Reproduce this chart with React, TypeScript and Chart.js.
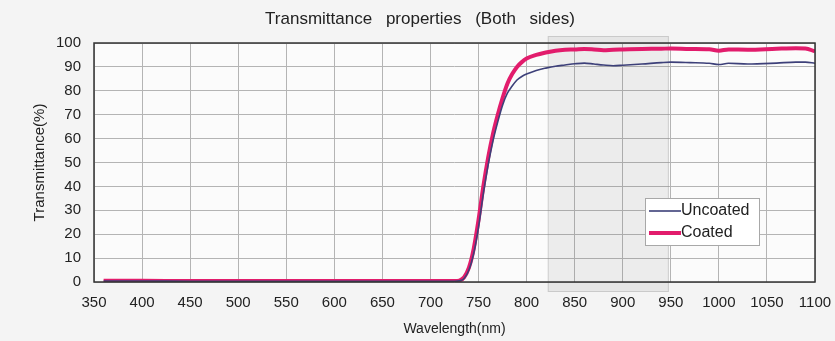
import React, { useEffect, useRef } from "react";
import { Chart, registerables } from "chart.js";

Chart.register(...registerables);

const titleText = "Transmittance properties (Both sides)";
const xTitle = "Wavelength(nm)";
const yTitle = "Transmittance(%)";
const seriesNames = ["Uncoated", "Coated"];

const wavelengths = [
  360, 400, 450, 500, 550, 600, 650, 700, 725, 730, 735, 740, 745, 750, 755, 760, 765, 770, 775, 780, 785, 790,
  795, 800, 810, 820, 830, 840, 850, 860, 870, 880, 890, 900, 920, 940, 950, 970, 990, 1000, 1010, 1030, 1060,
  1080, 1090, 1100,
];
const uncoated = [
  0.4, 0.4, 0.3, 0.3, 0.3, 0.3, 0.3, 0.3, 0.3, 0.5, 1.5, 5, 12, 23, 37, 49, 59, 67, 74, 79, 82, 84.5, 86, 87,
  88.5, 89.5, 90.3, 90.8, 91.3, 91.6, 91.2, 90.8, 90.5, 90.7, 91.2, 91.8, 92, 91.8, 91.5, 91, 91.5, 91.2, 91.6,
  92, 92, 91.5,
];
const coated = [
  0.5, 0.5, 0.4, 0.4, 0.4, 0.4, 0.4, 0.4, 0.4, 0.6, 2, 6, 14, 26, 40, 52, 62, 70, 77, 83, 87, 90, 92, 93.5, 95,
  96, 96.8, 97.2, 97.3, 97.5, 97.3, 97, 97.2, 97.3, 97.5, 97.6, 97.7, 97.5, 97.4, 96.8, 97.3, 97.2, 97.6, 97.8,
  97.7, 96.5,
];
const xTicksMin = 350;
const xTicksMax = 1100;
const xStep = 50;
const yMin = 0;
const yMax = 100;
const yStep = 10;
const bandRange = [822, 948];

const FONT = "'Liberation Sans', Arial, sans-serif";

const decorPlugin = {
  id: "decor",
  beforeDraw(chart: any) {
    const { ctx, chartArea } = chart;
    ctx.save();
    ctx.fillStyle = "#f4f4f4";
    ctx.fillRect(0, 0, chart.width, chart.height);
    ctx.fillStyle = "#fbfbfb";
    ctx.fillRect(chartArea.left, chartArea.top, chartArea.right - chartArea.left, chartArea.bottom - chartArea.top);
    // title
    ctx.font = `17px ${FONT}`;
    (ctx as any).wordSpacing = "9px";
    ctx.fillStyle = "#222";
    ctx.textAlign = "center";
    ctx.textBaseline = "alphabetic";
    ctx.fillText(titleText, 420, 24);
    (ctx as any).wordSpacing = "0px";
    ctx.restore();
  },
  beforeDatasetsDraw(chart: any) {
    const { ctx, chartArea, scales } = chart;
    const x0 = scales.x.getPixelForValue(bandRange[0]);
    const x1 = scales.x.getPixelForValue(bandRange[1]);
    const y0 = chartArea.top - 7;
    const y1 = chartArea.bottom + 10;
    ctx.save();
    ctx.fillStyle = "rgba(110,110,110,0.10)";
    ctx.fillRect(x0, y0, x1 - x0, y1 - y0);
    ctx.strokeStyle = "rgba(150,150,150,0.35)";
    ctx.lineWidth = 1;
    ctx.strokeRect(x0 + 0.5, y0 + 0.5, x1 - x0 - 1, y1 - y0 - 1);
    ctx.restore();
  },
  afterDatasetsDraw(chart: any) {
    const { ctx, chartArea } = chart;
    ctx.save();
    ctx.strokeStyle = "#333";
    ctx.lineWidth = 1.5;
    ctx.strokeRect(chartArea.left, chartArea.top, chartArea.right - chartArea.left, chartArea.bottom - chartArea.top);
    // legend
    const lx = 645, ly = 198, lw = 114, lh = 47;
    ctx.fillStyle = "#ffffff";
    ctx.fillRect(lx, ly, lw, lh);
    ctx.strokeStyle = "#a8a8a8";
    ctx.lineWidth = 1;
    ctx.strokeRect(lx + 0.5, ly + 0.5, lw, lh);
    ctx.font = `16px ${FONT}`;
    ctx.textBaseline = "middle";
    ctx.textAlign = "left";
    chart.data.datasets.forEach((ds: any, i: number) => {
      const yy = ly + 13 + i * 22;
      ctx.strokeStyle = ds.borderColor;
      ctx.lineWidth = ds.borderWidth;
      ctx.beginPath();
      ctx.moveTo(lx + 4, yy);
      ctx.lineTo(lx + 36, yy);
      ctx.stroke();
      ctx.fillStyle = "#222";
      ctx.fillText(ds.label, lx + 36, yy);
    });
    ctx.restore();
  },
};

export default function App() {
  const ref = useRef<HTMLCanvasElement | null>(null);
  useEffect(() => {
    if (!ref.current) return;
    const chart = new Chart(ref.current, {
      type: "line",
      data: {
        datasets: [
          {
            label: seriesNames[0],
            data: wavelengths.map((w, i) => ({ x: w, y: uncoated[i] })),
            borderColor: "#3d4079",
            borderWidth: 1.6,
            pointRadius: 0,
            cubicInterpolationMode: "monotone",
            fill: false,
          },
          {
            label: seriesNames[1],
            data: wavelengths.map((w, i) => ({ x: w, y: coated[i] })),
            borderColor: "#e21c6c",
            borderWidth: 4,
            pointRadius: 0,
            cubicInterpolationMode: "monotone",
            fill: false,
          },
        ],
      },
      options: {
        animation: false,
        responsive: false,
        devicePixelRatio: 1,
        layout: { padding: { left: 0, right: 0, top: 43, bottom: 0 } },
        plugins: {
          legend: { display: false },
          tooltip: { enabled: false },
          title: { display: false },
        },
        scales: {
          x: {
            type: "linear",
            min: xTicksMin,
            max: xTicksMax,
            ticks: {
              stepSize: xStep,
              color: "#222",
              font: { family: FONT, size: 15 },
              padding: 12,
              maxRotation: 0,
              autoSkip: false,
              callback: (v: any) => String(v),
            },
            grid: { color: "#b4b4b4", lineWidth: 1, drawTicks: false },
            border: { display: false },
            title: { display: true, text: xTitle, color: "#222", font: { family: FONT, size: 14 }, padding: { top: 0, bottom: 3 } },
            afterFit: (s: any) => {
              s.height = 59;
              s.paddingRight = 20;
              s.paddingLeft = 0;
            },
          },
          y: {
            min: yMin,
            max: yMax,
            ticks: { stepSize: yStep, color: "#222", font: { family: FONT, size: 15 }, padding: 13, callback: (v: any) => String(v) },
            grid: { color: "#b4b4b4", lineWidth: 1, drawTicks: false },
            border: { display: false },
            title: { display: true, text: yTitle, color: "#222", font: { family: FONT, size: 15 }, padding: { top: 31, bottom: 0 } },
            afterFit: (s: any) => {
              s.width = 94;
            },
          },
        },
      },
      plugins: [decorPlugin],
    });
    return () => chart.destroy();
  }, []);
  return (
    <div style={{ position: "fixed", left: 0, top: 0, width: 835, height: 341 }}>
      <canvas ref={ref} width={835} height={341} style={{ width: 835, height: 341, display: "block" }} />
    </div>
  );
}
